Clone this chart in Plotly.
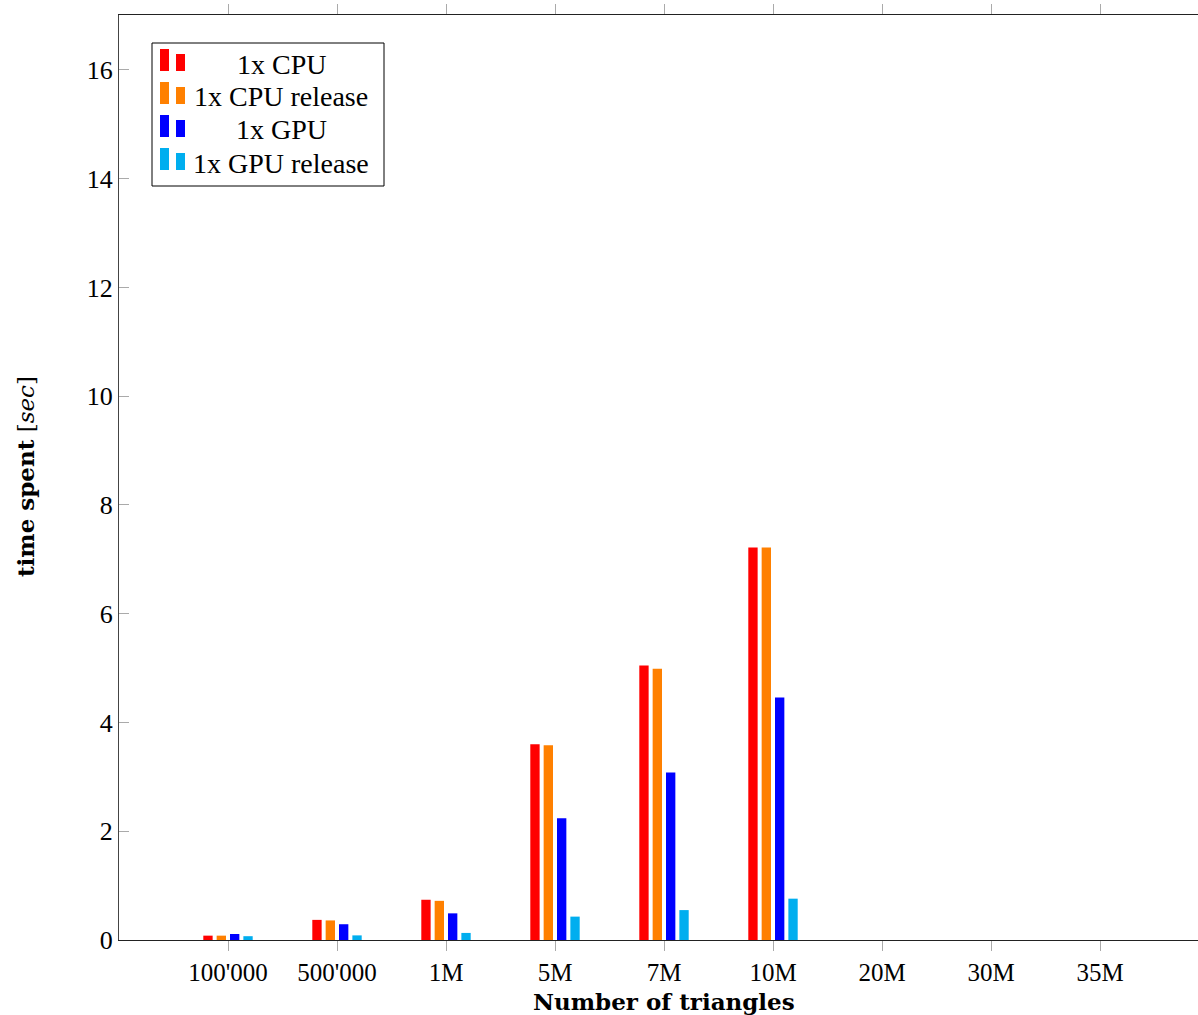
import plotly.graph_objects as go

# Benchmark: time spent per mesh size
categories = ["100'000", "500'000", "1M", "5M", "7M", "10M", "20M", "30M", "35M"]
series_names = ["1x CPU", "1x CPU release", "1x GPU", "1x GPU release"]
cpu = [0.08, 0.37, 0.74, 3.60, 5.05, 7.22, None, None, None]
cpu_release = [0.08, 0.36, 0.72, 3.58, 4.99, 7.22, None, None, None]
gpu = [0.11, 0.29, 0.49, 2.24, 3.08, 4.46, None, None, None]
gpu_release = [0.07, 0.085, 0.13, 0.43, 0.55, 0.76, None, None, None]
series_values = [cpu, cpu_release, gpu, gpu_release]
colors = ["#ff0000", "#ff8000", "#0000ff", "#00aeef"]
y_ticks = [0, 2, 4, 6, 8, 10, 12, 14, 16]

FONT = "Liberation Serif"
TITLE_FONT = "DejaVu Serif"
W, H = 1198, 1015
L, R, T, B = 119, 0, 15, 75
PW, PH = W - L - R, H - T - B

fig = go.Figure()
for name, vals, col in zip(series_names, series_values, colors):
    fig.add_trace(go.Bar(
        x=categories, y=vals, name=name, marker_color=col,
        marker_line_width=0, showlegend=False,
    ))


def px_x(px):
    return (px - L) / PW


def px_y(py):
    return (H - B - py) / PH


shapes = []
annotations = []

# legend frame
shapes.append(dict(type="rect", xref="paper", yref="paper",
                   x0=px_x(152), x1=px_x(384), y0=px_y(186), y1=px_y(43),
                   line=dict(color="black", width=1), fillcolor="white", layer="above"))
row_y = [64, 97, 130, 163]
for name, col, cy in zip(series_names, colors, row_y):
    # two-bar legend glyph
    shapes.append(dict(type="rect", xref="paper", yref="paper",
                       x0=px_x(160), x1=px_x(169), y0=px_y(cy + 7), y1=px_y(cy - 15),
                       line=dict(width=0), fillcolor=col, layer="above"))
    shapes.append(dict(type="rect", xref="paper", yref="paper",
                       x0=px_x(176), x1=px_x(185), y0=px_y(cy + 7), y1=px_y(cy - 10),
                       line=dict(width=0), fillcolor=col, layer="above"))
    annotations.append(dict(text=name, xref="paper", yref="paper",
                            x=px_x(281), y=px_y(cy), xanchor="center", yanchor="middle",
                            showarrow=False, font=dict(family=FONT, size=28, color="black")))

# axis titles
annotations.append(dict(text="<b>Number of triangles</b>", xref="paper", yref="paper",
                        x=px_x(664), y=px_y(1001), xanchor="center", yanchor="middle",
                        showarrow=False, font=dict(family=TITLE_FONT, size=23, color="black")))
annotations.append(dict(text="<b>time spent</b> [<i>sec</i>]", xref="paper", yref="paper",
                        x=px_x(25), y=px_y(477), xanchor="center", yanchor="middle",
                        textangle=-90, showarrow=False,
                        font=dict(family=TITLE_FONT, size=23, color="black")))

fig.update_layout(
    width=W, height=H,
    margin=dict(l=L, r=R, t=T, b=B),
    paper_bgcolor="white", plot_bgcolor="white",
    barmode="group", bargap=0.51, bargroupgap=0.3,
    font=dict(family=FONT, size=26, color="black"),
    shapes=shapes, annotations=annotations,
    xaxis=dict(
        type="category", range=[-1, 8 + (W - 1100) / 109],
        showgrid=False, zeroline=False,
        showline=True, linecolor="#222", linewidth=1.3, mirror="ticks",
        ticks="outside", ticklen=10, tickcolor="#aaa", tickwidth=1.3,
        tickfont=dict(family=FONT, size=25),
    ),
    yaxis=dict(
        range=[0, 17.01], tickvals=y_ticks,
        showgrid=False, zeroline=False,
        showline=True, linecolor="#444", linewidth=1.3,
        ticks="inside", ticklen=10, tickcolor="#aaa", tickwidth=1.3,
        tickfont=dict(family=FONT, size=26),
    ),
)

fig.write_html("out.html")
